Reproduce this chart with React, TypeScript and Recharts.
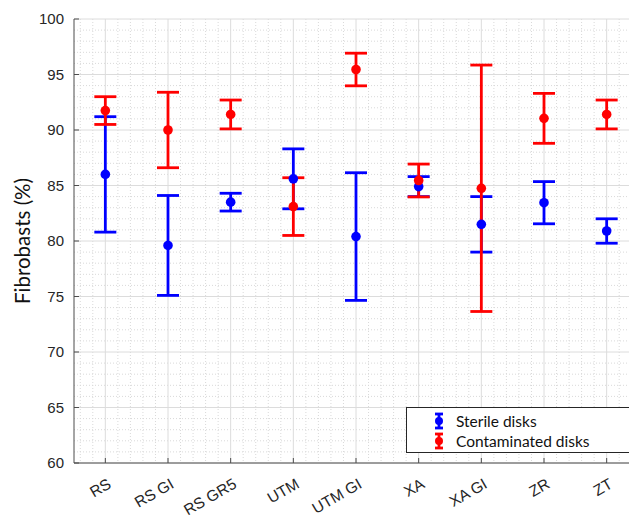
import React from "react";
import {
    ScatterChart,
    Scatter,
    XAxis,
    YAxis,
    CartesianGrid,
    ErrorBar,
    Legend,
    Label
} from "recharts";

const categories = ["RS", "RS GI", "RS GR5", "UTM", "UTM GI", "XA", "XA GI", "ZR", "ZT"];
const seriesNames = ["Sterile disks", "Contaminated disks"];

// mean and standard deviation
const sterileMean = [86.0, 79.6, 83.5, 85.6, 80.4, 84.9, 81.5, 83.45, 80.9];
const sterileSd = [5.2, 4.5, 0.8, 2.7, 5.75, 0.9, 2.5, 1.9, 1.1];
const contaminatedMean = [91.75, 90.0, 91.4, 83.1, 95.45, 85.45, 84.75, 91.05, 91.4];
const contaminatedSd = [1.25, 3.4, 1.3, 2.6, 1.47, 1.48, 11.1, 2.25, 1.3];

const yTicks = [60, 65, 70, 75, 80, 85, 90, 95, 100];
const xTicks = [1, 2, 3, 4, 5, 6, 7, 8, 9];

const sterileData = categories.map((c, i) => ({ x: i + 1, y: sterileMean[i], err: sterileSd[i] }));
const contaminatedData = categories.map((c, i) => ({ x: i + 1, y: contaminatedMean[i], err: contaminatedSd[i] }));

// minor grid every 1% and every 0.2 category
const minorY: number[] = [];
for (let v = 61; v < 100; v++) if (v % 5 !== 0) minorY.push(v);
const minorX: number[] = [];
for (let i = 0; i < 9; i++) [0.6, 0.8, 1.2, 1.4].forEach(d => minorX.push(i + d));

const AXIS = "#4d4d4d";
const TEXT = "#262626";

const YTick = (props: any) => {
    const { x, y, payload } = props;
    return (
        <g>
            <line x1={x + 10} x2={x + 15} y1={y} y2={y} stroke={AXIS} />
            <text x={x} y={y} dy={5} textAnchor="end" fill={TEXT}
                fontFamily="'Liberation Sans', Arial, sans-serif" fontSize={15}>
                {payload.value}
            </text>
        </g>
    );
};

const XTick = (props: any) => {
    const { x, y, payload } = props;
    return (
        <g>
            <line x1={x} x2={x} y1={y - 10} y2={y - 15} stroke={AXIS} />
            <g transform={`translate(${x + 7},${y + 14})`}>
                <text textAnchor="end" transform="rotate(-30)" fill={TEXT}
                    fontFamily="'Liberation Sans', Arial, sans-serif" fontSize={15.5}>
                    {categories[payload.value - 1]}
                </text>
            </g>
        </g>
    );
};

const Dot = (color: string) => (props: any) => (
    <circle cx={props.cx} cy={props.cy} r={4.8} fill={color} />
);

const LegendIcon = ({ color }: { color: string }) => (
    <svg width={12} height={18} style={{ display: "block" }}>
        <line x1={6} x2={6} y1={2} y2={16} stroke={color} strokeWidth={2.8} />
        <line x1={2} x2={10} y1={2} y2={2} stroke={color} strokeWidth={2.8} />
        <line x1={2} x2={10} y1={16} y2={16} stroke={color} strokeWidth={2.8} />
        <circle cx={6} cy={9} r={4} fill={color} />
    </svg>
);

const renderLegend = (props: any) => {
    const payload = [...props.payload].sort(
        (a: any, b: any) => seriesNames.indexOf(a.value) - seriesNames.indexOf(b.value)
    );
    return (
        <div style={{
            border: "1px solid #262626", background: "#fff", boxSizing: "border-box",
            width: 240, height: 46, paddingTop: 3, paddingLeft: 26
        }}>
            {payload.map((entry: any) => (
                <div key={entry.value} style={{ display: "flex", alignItems: "center", height: 20 }}>
                    <LegendIcon color={entry.color} />
                    <span style={{
                        marginLeft: 11, fontFamily: "Lato, 'Open Sans', sans-serif",
                        fontSize: 15.5, color: "#111"
                    }}>{entry.value}</span>
                </div>
            ))}
        </div>
    );
};

const App: React.FC = () => {
    return (
        <div style={{ position: "absolute", left: 0, top: 0, width: 629, height: 517, overflow: "hidden", background: "#fff" }}>
            <ScatterChart
                width={660}
                height={517}
                margin={{ top: 19, right: 22, left: 0, bottom: 0 }}
            >
                <CartesianGrid stroke="#d9d9d9" strokeDasharray="1 2"
                    horizontalValues={minorY} verticalValues={minorX} />
                <CartesianGrid stroke="#dcdcdc"
                    horizontalValues={yTicks} verticalValues={xTicks} />
                <XAxis
                    type="number"
                    dataKey="x"
                    domain={[0.5, 9.5]}
                    ticks={xTicks}
                    interval={0}
                    height={54}
                    tickSize={10}
                    tickMargin={0}
                    tickLine={false}
                    axisLine={{ stroke: AXIS }}
                    tick={<XTick />}
                />
                <YAxis
                    type="number"
                    dataKey="y"
                    domain={[60, 100]}
                    ticks={yTicks}
                    interval={0}
                    width={74}
                    tickSize={10}
                    tickMargin={0}
                    tickLine={false}
                    axisLine={{ stroke: AXIS }}
                    tick={<YTick />}
                >
                    <Label
                        content={(p: any) => (
                            <text
                                x={30}
                                y={p.viewBox.y + p.viewBox.height / 2}
                                transform={`rotate(-90, 30, ${p.viewBox.y + p.viewBox.height / 2})`}
                                textAnchor="middle"
                                fill="#111"
                                fontFamily="Lato, 'Open Sans', sans-serif"
                                fontSize={20.5}
                            >
                                Fibrobasts (%)
                            </text>
                        )}
                    />
                </YAxis>
                <Legend
                    layout="horizontal"
                    verticalAlign="middle"
                    align="center"
                    content={renderLegend}
                    wrapperStyle={{ left: 406, top: 407, width: 240, height: 46 }}
                />
                <Scatter name="Sterile disks" data={sterileData} fill="#0000ff"
                    shape={Dot("#0000ff")} isAnimationActive={false}>
                    <ErrorBar dataKey="err" direction="y" width={11} stroke="#0000ff"
                        strokeWidth={2.8} isAnimationActive={false} />
                </Scatter>
                <Scatter name="Contaminated disks" data={contaminatedData} fill="#ff0000"
                    shape={Dot("#ff0000")} isAnimationActive={false}>
                    <ErrorBar dataKey="err" direction="y" width={11} stroke="#ff0000"
                        strokeWidth={2.8} isAnimationActive={false} />
                </Scatter>
            </ScatterChart>
        </div>
    );
};

export default App;
